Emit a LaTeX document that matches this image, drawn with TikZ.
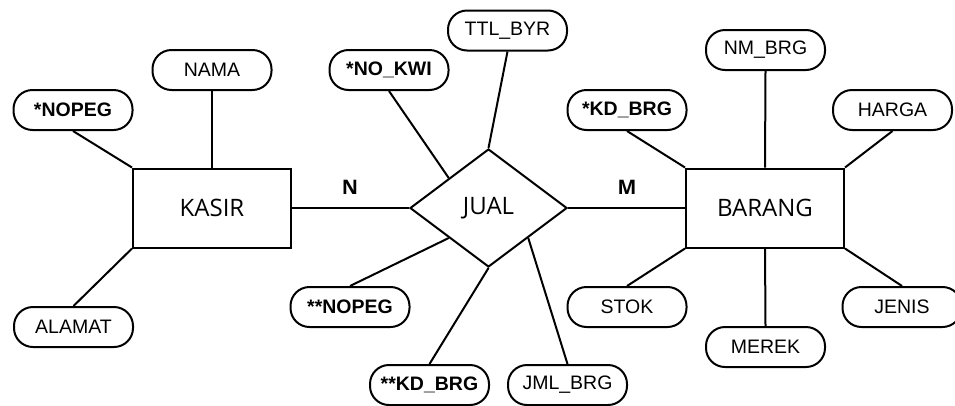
\documentclass[tikz,border=0pt]{standalone}
\usepackage{fontspec}
\setmainfont{Liberation Sans}
\newfontfamily\entfont{Open Sans}
\usetikzlibrary{shapes.geometric}
\tikzset{
  attr/.style={draw, line width=2pt, rectangle, rounded corners=19pt,
    minimum width=119pt, minimum height=40pt, inner sep=0pt,
    font=\fontsize{19.5pt}{21pt}\selectfont},
  keyattr/.style={attr, font=\fontsize{19.5pt}{21pt}\selectfont\bfseries},
  entity/.style={draw, line width=2pt, rectangle, minimum width=158pt,
    minimum height=79pt, inner sep=0pt, font=\fontsize{24pt}{26pt}\selectfont\entfont},
  relation/.style={draw, line width=2pt, diamond, minimum width=157pt,
    minimum height=118pt, inner sep=0pt, font=\fontsize{24pt}{26pt}\selectfont\entfont},
  card/.style={font=\fontsize{20pt}{22pt}\selectfont\entfont\bfseries},
  link/.style={line width=2pt}
}
\begin{document}
\begin{tikzpicture}[x=1pt, y=-1pt]
\useasboundingbox (0,0) rectangle (955,405);

% entities and relationship
\node[entity] (kasir) at (212,208) {KASIR};
\node[entity] (barang) at (765,208) {BARANG};
\node[relation] (jual) at (488.5,208) {JUAL};

% KASIR attributes
\node[attr] (nama) at (212,70) {NAMA};
\node[keyattr] (nopeg) at (73,110) {*NOPEG};
\node[attr] (alamat) at (73.5,327) {ALAMAT};

% JUAL attributes
\node[keyattr] (nokwi) at (389,70) {*NO\_KWI};
\node[attr] (ttlbyr) at (507.5,30.5) {TTL\_BYR};
\node[keyattr] (fknopeg) at (350,307) {**NOPEG};
\node[keyattr] (fkkdbrg) at (429.5,385) {**KD\_BRG};
\node[attr] (jmlbrg) at (567.5,385) {JML\_BRG};

% BARANG attributes
\node[attr] (nmbrg) at (765.5,50) {NM\_BRG};
\node[keyattr] (kdbrg) at (627,110) {*KD\_BRG};
\node[attr] (harga) at (892.5,110) {HARGA};
\node[attr] (stok) at (627,307) {STOK};
\node[attr] (merek) at (765.5,347) {MEREK};
\node[attr] (jenis) at (902,307) {JENIS};

% cardinality labels
\node[card] (cn) at (350,187) {N};
\node[card] (cm) at (627,187) {M};

% relationship lines
\draw[link] (kasir.east) -- (jual.west);
\draw[link] (jual.east) -- (barang.west);

% attribute lines
\draw[link] (nama.south) -- (kasir.north);
\draw[link] (nopeg.south) -- (kasir.north west);
\draw[link] (alamat.north) -- (kasir.south west);

\draw[link] (nokwi.south) -- (jual.north west);
\draw[link] (ttlbyr.south) -- (jual.north);
\draw[link] (fknopeg.north) -- (jual.south west);
\draw[link] (fkkdbrg.north) -- (jual.south);
\draw[link] (jmlbrg.north) -- (jual.south east);

\draw[link] (nmbrg.south) -- (barang.north);
\draw[link] (kdbrg.south) -- (barang.north west);
\draw[link] (harga.south) -- (barang.north east);
\draw[link] (stok.north) -- (barang.south west);
\draw[link] (merek.north) -- (barang.south);
\draw[link] (jenis.north) -- (barang.south east);
\end{tikzpicture}
\end{document}
